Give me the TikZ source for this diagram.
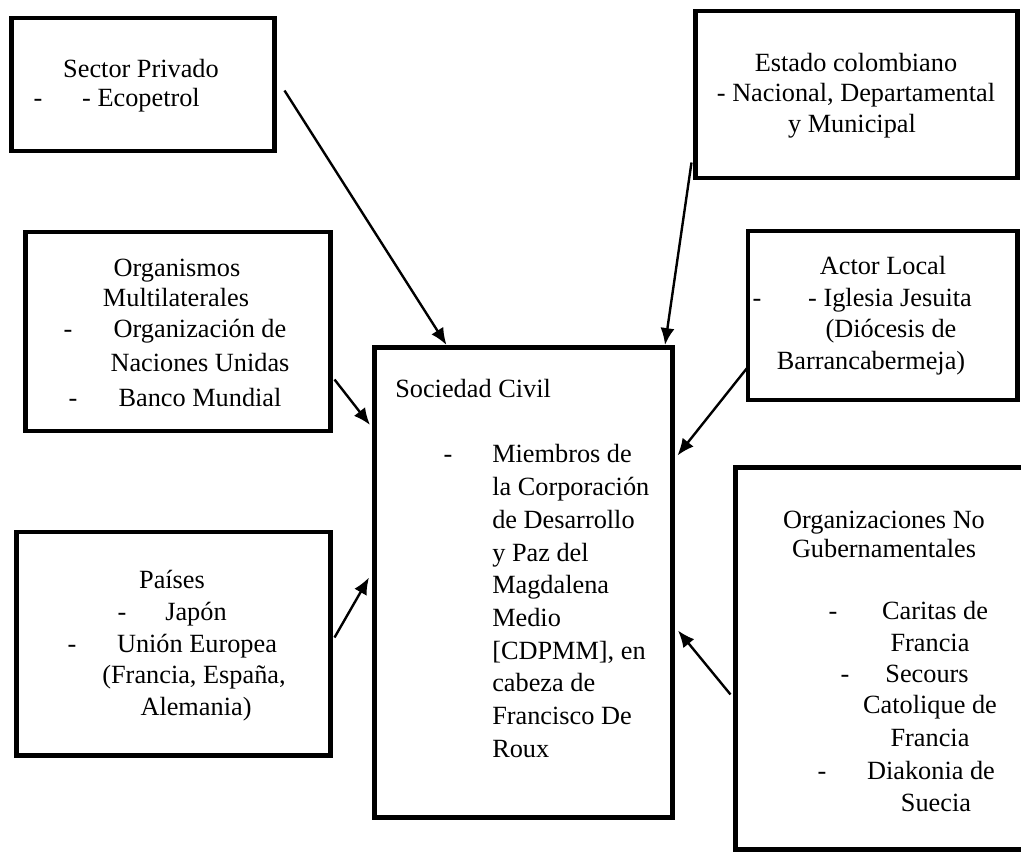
\documentclass[tikz,border=0pt]{standalone}
\usepackage{fontspec}
\setmainfont{Liberation Serif}
\usepackage{tikz}
\usetikzlibrary{arrows.meta}
\tikzset{>={Latex[length=12pt, width=10pt]}}
\tikzset{
	caja/.style={draw, line width=3.5pt, inner sep=0pt},
	txt/.style={inner sep=0pt, anchor=base, font=\fontsize{18.7}{22}\selectfont},
	flecha/.style={->, line width=1.7pt}
}

\begin{document}
\begin{tikzpicture}[x=0.025cm, y=-0.025cm]
    \useasboundingbox (0, 0) rectangle (1021, 853);
    % cajas
    \node[caja, minimum width=6.575cm, minimum height=3.325cm](sp) at (143, 84.5){};
    \node[caja, minimum width=8.05cm, minimum height=4.175cm](estado) at (856.5, 94.5){};
    \node[caja, minimum width=7.625cm, minimum height=4.975cm](org) at (178, 331.5){};
    \node[caja, minimum width=7.45cm, minimum height=11.75cm](civil) at (523.5, 582.5){};
    \node[caja, minimum width=6.725cm, minimum height=4.225cm](actor) at (882.5, 315.5){};
    \node[caja, minimum width=7.85cm, minimum height=5.5875cm](paises) at (173.5, 643.75){};
    \node[caja, minimum width=7.3625cm, minimum height=9.55cm](ong) at (882.75, 658.5){};
    % Sector Privado
    \node[txt](sp-1) at (141, 78){Sector Privado};
    \node[txt](sp-g) at (38, 107){-};
    \node[txt](sp-2) at (141, 107){- Ecopetrol};
    % Estado
    \node[txt](estado-1) at (856, 72){Estado colombiano};
    \node[txt](estado-2) at (856, 102){- Nacional, Departamental};
    \node[txt](estado-3) at (852, 133){y Municipal};
    % Organismos
    \node[txt](org-1) at (177, 277){Organismos};
    \node[txt](org-2) at (176, 307){Multilaterales};
    \node[txt](org-g1) at (68, 338){-};
    \node[txt](org-3) at (200, 338){Organización de};
    \node[txt](org-4) at (200, 372){Naciones Unidas};
    \node[txt](org-g2) at (73, 407){-};
    \node[txt](org-5) at (200, 407){Banco Mundial};
    % Sociedad Civil
    \node[txt, anchor=base west](civil-t) at (395, 398){Sociedad Civil};
    \node[txt](civil-g) at (448, 463){-};
    \foreach \t [count=\i from 0] in {Miembros de, la Corporación, de Desarrollo, y Paz del, Magdalena, Medio, {[CDPMM], en}, cabeza de, Francisco De, Roux}
        \node[txt, anchor=base west](civil-\i) at (492, 463+32.7*\i){\t};
    % Actor Local
    \node[txt](actor-1) at (883, 275){Actor Local};
    \node[txt](actor-g) at (757, 307){-};
    \node[txt](actor-2) at (890, 307){- Iglesia Jesuita};
    \node[txt](actor-3) at (891, 338){(Diócesis de};
    \node[txt](actor-4) at (871, 370){Barrancabermeja)};
    % Paises
    \node[txt](paises-1) at (172, 588){Países};
    \node[txt](paises-g1) at (122, 620){-};
    \node[txt](paises-2) at (196, 620){Japón};
    \node[txt](paises-g2) at (72, 652){-};
    \node[txt](paises-3) at (197, 652){Unión Europea};
    \node[txt](paises-4) at (194, 683){(Francia, España,};
    \node[txt](paises-5) at (196, 715){Alemania)};
    % ONG
    \node[txt](ong-1) at (884, 528){Organizaciones No};
    \node[txt](ong-2) at (884, 557){Gubernamentales};
    \node[txt](ong-g1) at (833, 619){-};
    \node[txt](ong-3) at (935, 619){Caritas de};
    \node[txt](ong-4) at (930, 651){Francia};
    \node[txt](ong-g2) at (845, 682){-};
    \node[txt](ong-5) at (927, 682){Secours};
    \node[txt](ong-6) at (930, 713){Catolique de};
    \node[txt](ong-7) at (930, 746){Francia};
    \node[txt](ong-g3) at (822, 779){-};
    \node[txt](ong-8) at (931, 779){Diakonia de};
    \node[txt](ong-9) at (936, 811){Suecia};
    % flechas
    \draw[flecha]([shift={(7.5, 75)}]sp.north east)--([shift={(74.5, 0)}]civil.north west);
    \draw[flecha]([shift={(-1.5, -18)}]estado.south west)--([shift={(-10, 0)}]civil.north east);
    \draw[flecha]([shift={(1.5, 150)}]org.north east)--([shift={(-2, 80)}]civil.north west);
    \draw[flecha]([shift={(2, -35)}]actor.south west)--([shift={(2.5, 110.5)}]civil.north east);
    \draw[flecha]([shift={(1.5, 108)}]paises.north east)--([shift={(-3, 232.5)}]civil.north west);
    \draw[flecha]([shift={(-2.5, 229.5)}]ong.north west)--([shift={(3, 285.5)}]civil.north east);
\end{tikzpicture}
\end{document}
